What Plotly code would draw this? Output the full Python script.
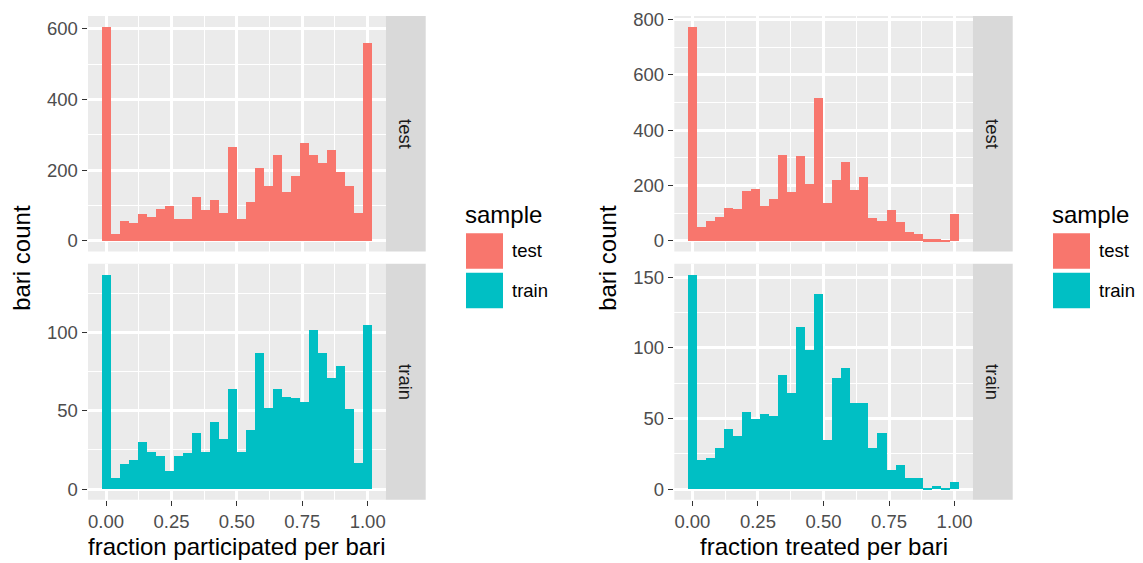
import plotly.graph_objects as go

# ---- data: 30-bin histograms (bin centres at k/29), counts per sample ----
n_bins = 30
bin_centers = [k / (n_bins - 1) for k in range(n_bins)]
bin_width = 1 / (n_bins - 1)

samples = ["test", "train"]
sample_colors = {"test": "#F8766D", "train": "#00BFC4"}

participated_test = [606, 19, 58, 52, 75, 69, 91, 100, 61, 61,
                     125, 89, 117, 80, 265, 61, 111, 206, 156, 242,
                     139, 184, 276, 242, 220, 256, 195, 156, 80, 561]
participated_train = [137, 7, 16, 19, 30, 24, 21, 12, 21, 23,
                      36, 24, 43, 32, 64, 24, 38, 87, 52, 64,
                      59, 58, 56, 102, 87, 71, 79, 51, 17, 105]
treated_test = [775, 49, 74, 88, 120, 117, 181, 188, 128, 153,
                310, 178, 306, 206, 517, 138, 221, 285, 185, 231,
                85, 74, 113, 70, 31, 27, 6, 6, 2, 99]
treated_train = [152, 21, 22, 29, 43, 38, 55, 50, 53, 52,
                 81, 68, 115, 99, 138, 35, 79, 86, 61, 61,
                 29, 40, 14, 17, 8, 8, 1, 2, 1, 5]

x_ticks = [0, 0.25, 0.5, 0.75, 1.0]
x_ticktext = ["0.00", "0.25", "0.50", "0.75", "1.00"]
x_titles = ["fraction participated per bari", "fraction treated per bari"]
y_title = "bari count"

# ---- geometry (pixels) ----
W, H = 1143, 563
def px(x):
    return x / W
def py(y):
    return 1 - y / H

FONT = "Liberation Sans, Arial, Helvetica, sans-serif"
PANEL_BG = "#EBEBEB"
STRIP_BG = "#D9D9D9"
TICK_SIZE = 18.5
TITLE_SIZE = 24

panel_x = [(88, 385.7), (674.3, 972.7)]
panel_y = {"test": (9, 247.7), "train": (260, 499)}
strip_w = 40

lo = -bin_width / 2
hi = 1 + bin_width / 2
span = hi - lo
x_range = [lo - 0.05 * span, hi + 0.05 * span]

panels = [
    (0, "test", participated_test, 200, 100),
    (0, "train", participated_train, 50, 25),
    (1, "test", treated_test, 200, 100),
    (1, "train", treated_train, 50, 25),
]

fig = go.Figure()
layout = {}
shapes = []
annotations = []

for i, (col, samp, counts, dtick, minor_dtick) in enumerate(panels, start=1):
    xa = "x" if i == 1 else f"x{i}"
    ya = "y" if i == 1 else f"y{i}"
    fig.add_trace(go.Bar(
        x=bin_centers, y=counts, width=bin_width,
        marker=dict(color=sample_colors[samp], line=dict(width=0)),
        xaxis=xa, yaxis=ya, showlegend=False,
    ))
    x0, x1 = panel_x[col]
    y0, y1 = panel_y[samp]
    ymax = max(counts)
    is_bottom = samp == "train"
    layout["xaxis" if i == 1 else f"xaxis{i}"] = dict(
        domain=[px(x0), px(x1)], anchor=ya, range=x_range,
        tickvals=x_ticks, ticktext=x_ticktext, showticklabels=is_bottom,
        ticks="outside" if is_bottom else "", ticklen=5.5, tickwidth=1.4,
        tickcolor="#333333",
        tickfont=dict(family=FONT, size=TICK_SIZE, color="#4D4D4D"),
        showgrid=True, gridcolor="white", gridwidth=2.6,
        minor=dict(tickvals=[0.125, 0.375, 0.625, 0.875], showgrid=True,
                   gridcolor="white", gridwidth=1.3),
        zeroline=False, showline=False, fixedrange=True,
    )
    layout["yaxis" if i == 1 else f"yaxis{i}"] = dict(
        domain=[py(y1), py(y0)], anchor=xa,
        range=[-0.05 * ymax, 1.05 * ymax],
        tick0=0, dtick=dtick, ticks="outside", ticklen=5.5, tickwidth=1.4,
        tickcolor="#333333",
        tickfont=dict(family=FONT, size=TICK_SIZE, color="#4D4D4D"),
        showgrid=True, gridcolor="white", gridwidth=2.6,
        minor=dict(tick0=minor_dtick, dtick=2 * minor_dtick, showgrid=True,
                   gridcolor="white", gridwidth=1.3),
        zeroline=False, showline=False, fixedrange=True,
    )
    # panel background
    shapes.append(dict(type="rect", xref="paper", yref="paper",
                       x0=px(x0), x1=px(x1), y0=py(y1), y1=py(y0),
                       fillcolor=PANEL_BG, line=dict(width=0), layer="below"))
    # facet strip
    shapes.append(dict(type="rect", xref="paper", yref="paper",
                       x0=px(x1), x1=px(x1 + strip_w), y0=py(y1), y1=py(y0),
                       fillcolor=STRIP_BG, line=dict(width=0), layer="below"))
    annotations.append(dict(
        text=samp, xref="paper", yref="paper",
        x=px(x1 + strip_w / 2), y=py((y0 + y1) / 2),
        xanchor="center", yanchor="middle", textangle=90, showarrow=False,
        font=dict(family=FONT, size=TICK_SIZE, color="#1A1A1A"),
    ))

# axis titles and legends for each of the two plots
y_title_x = [22, 608]
legend_x = [465, 1052]
for col in range(2):
    x0, x1 = panel_x[col]
    annotations.append(dict(
        text=x_titles[col], xref="paper", yref="paper",
        x=px((x0 + x1) / 2), y=py(546), xanchor="center", yanchor="middle",
        showarrow=False, font=dict(family=FONT, size=TITLE_SIZE, color="black"),
    ))
    annotations.append(dict(
        text=y_title, xref="paper", yref="paper",
        x=px(y_title_x[col]), y=py(254), xanchor="center", yanchor="middle",
        textangle=-90, showarrow=False,
        font=dict(family=FONT, size=TITLE_SIZE, color="black"),
    ))
    lx = legend_x[col]
    annotations.append(dict(
        text="sample", xref="paper", yref="paper",
        x=px(lx - 2), y=py(210), xanchor="left", yanchor="middle",
        showarrow=False, font=dict(family=FONT, size=TITLE_SIZE, color="black"),
    ))
    for k, samp in enumerate(samples):
        ky0 = 229 + 40 * k
        shapes.append(dict(type="rect", xref="paper", yref="paper",
                           x0=px(lx + 1), x1=px(lx + 38),
                           y0=py(ky0 + 36), y1=py(ky0),
                           fillcolor=sample_colors[samp], line=dict(width=0)))
        annotations.append(dict(
            text=samp, xref="paper", yref="paper",
            x=px(lx + 45), y=py(ky0 + 18), xanchor="left", yanchor="middle",
            showarrow=False, font=dict(family=FONT, size=TICK_SIZE, color="black"),
        ))

fig.update_layout(
    width=W, height=H, margin=dict(l=0, r=0, t=0, b=0),
    paper_bgcolor="white", plot_bgcolor="rgba(0,0,0,0)",
    bargap=0, barmode="overlay", showlegend=False,
    shapes=shapes, annotations=annotations,
    font=dict(family=FONT),
    **layout,
)

fig.write_html("out.html", config={"displayModeBar": False})
